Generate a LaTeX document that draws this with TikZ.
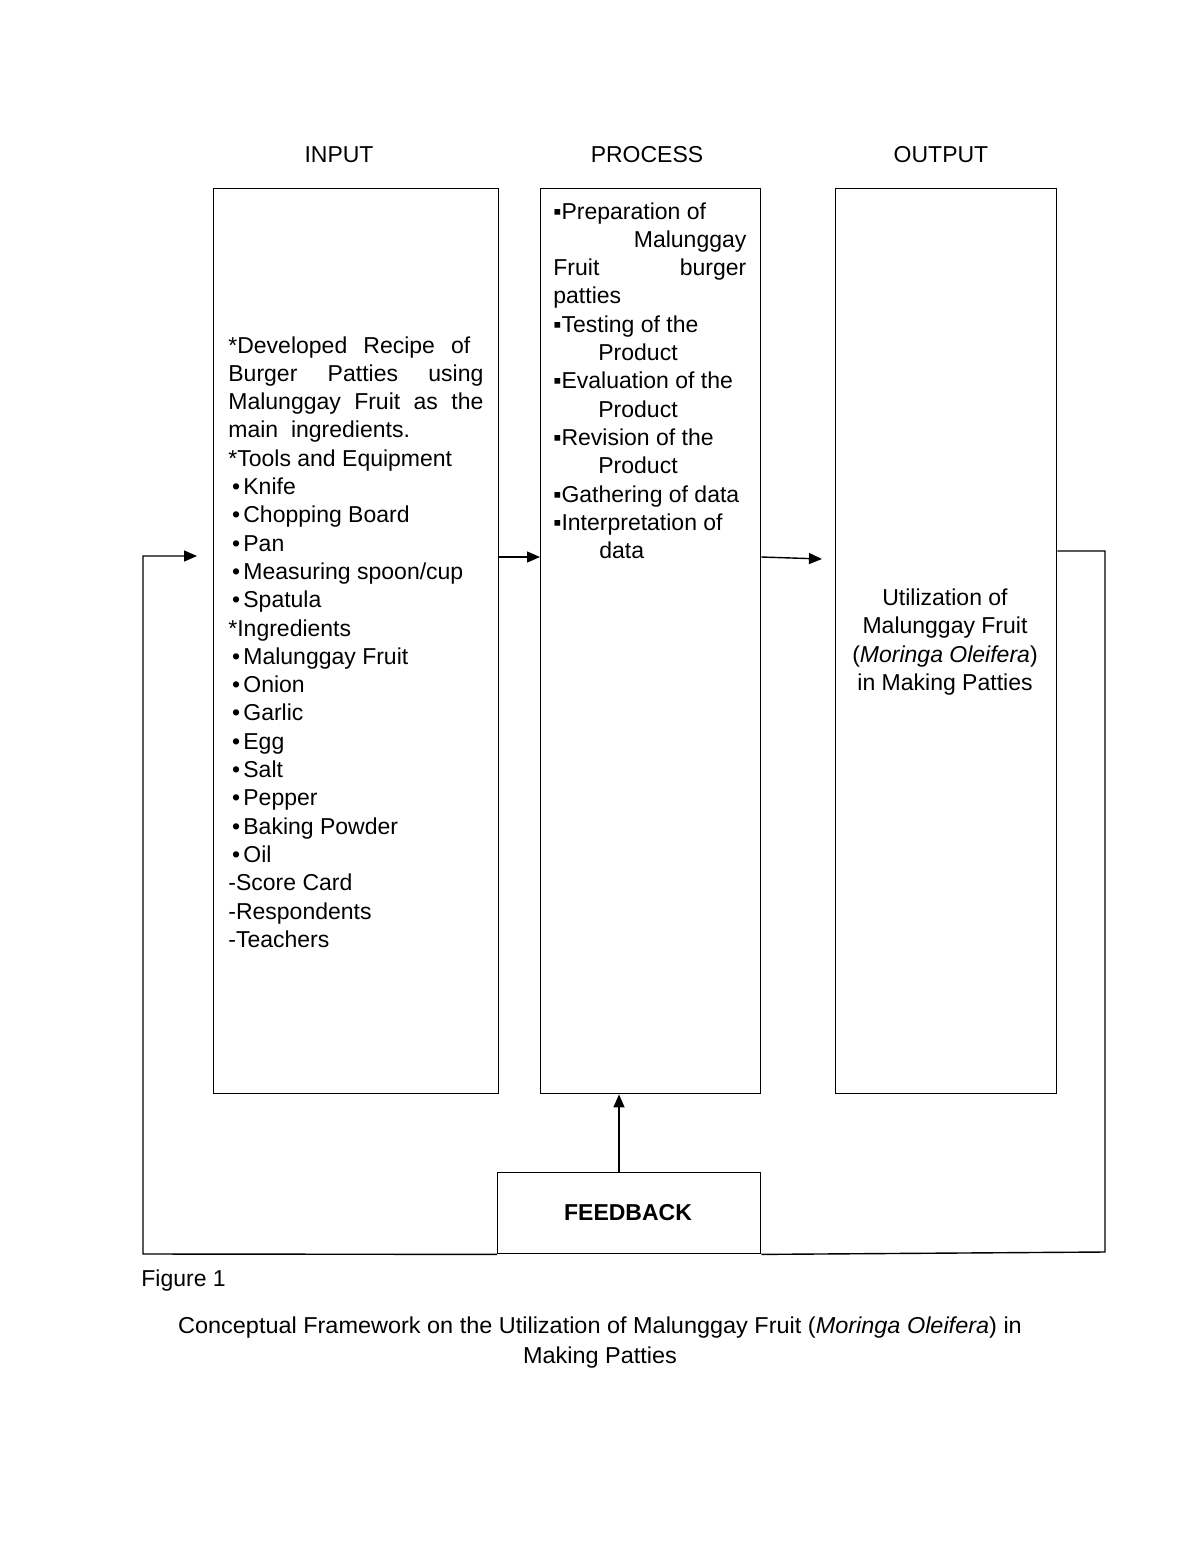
\documentclass[tikz,border=0pt]{standalone}
\usepackage{fontspec}
\setmainfont{Liberation Sans}
\newfontfamily\capfont[FakeStretch=1.02]{Liberation Sans}
\usetikzlibrary{arrows.meta}
\tikzset{
  every node/.style={font=\fontsize{11.5}{14.15}\selectfont, inner sep=0pt},
  boxstyle/.style={draw, line width=0.7pt, anchor=north west},
  txt/.style={align=left, anchor=north west},
  line/.style={line width=0.7pt},
  arr/.style={line width=0.7pt, -{Triangle[length=6.5pt,width=5.5pt]}},
}
\newcommand{\sqb}{▪}
\begin{document}
\begin{tikzpicture}[x=0.5pt,y=-0.5pt]
\useasboundingbox[fill=white] (0,0) rectangle (1200,1553);

% headings
\node (hin) at (339,155) {INPUT};
\node (hproc) at (647,155) {PROCESS};
\node (hout) at (941,155) {OUTPUT};

% boxes
\node[boxstyle, minimum width=142.5pt, minimum height=452.5pt] (inbox) at (213,188) {};
\node[boxstyle, minimum width=110pt, minimum height=452.5pt] (procbox) at (540,188) {};
\node[boxstyle, minimum width=110.5pt, minimum height=452.5pt] (outbox) at (835,188) {};
\node[boxstyle, minimum width=131.5pt, minimum height=40.5pt] (fb) at (497,1172) {};
\node[font=\fontsize{11.5}{14.15}\selectfont\bfseries] (fbtext) at (628,1213) {FEEDBACK};

% input text
\node[txt] (intext) at (228,336) {%
\makebox[121pt][s]{*Developed Recipe of}\\
\makebox[127.5pt][s]{Burger Patties using}\\
\makebox[127.5pt][s]{Malunggay Fruit as the}\\
main\ \ ingredients.\\
*Tools and Equipment\\
\makebox[7.5pt][l]{\,•}Knife\\
\makebox[7.5pt][l]{\,•}Chopping Board\\
\makebox[7.5pt][l]{\,•}Pan\\
\makebox[7.5pt][l]{\,•}Measuring spoon/cup\\
\makebox[7.5pt][l]{\,•}Spatula\\
*Ingredients\\
\makebox[7.5pt][l]{\,•}Malunggay Fruit\\
\makebox[7.5pt][l]{\,•}Onion\\
\makebox[7.5pt][l]{\,•}Garlic\\
\makebox[7.5pt][l]{\,•}Egg\\
\makebox[7.5pt][l]{\,•}Salt\\
\makebox[7.5pt][l]{\,•}Pepper\\
\makebox[7.5pt][l]{\,•}Baking Powder\\
\makebox[7.5pt][l]{\,•}Oil\\
-Score Card\\
-Respondents\\
-Teachers};

% process text
\node[txt] (proctext) at (553,202) {%
\sqb Preparation of\\
\makebox[96.5pt][r]{Malunggay}\\
\makebox[96.5pt][s]{Fruit burger}\\
patties\\
\sqb Testing of the\\
\hspace*{22.5pt}Product\\
\sqb Evaluation of the\\
\hspace*{22.5pt}Product\\
\sqb Revision of the\\
\hspace*{22.5pt}Product\\
\sqb Gathering of data\\
\sqb Interpretation of\\
\hspace*{23pt}data};

% output text
\node[align=center] (outtext) at (945,642) {Utilization of\\Malunggay Fruit\\(\textit{Moringa Oleifera})\\in Making Patties};

% caption
\node[anchor=west] (fig) at (141,1281) {Figure 1};
\node[align=center, font=\fontsize{11.5}{15}\capfont] (cap) at (600,1343) {Conceptual Framework on the Utilization of Malunggay Fruit (\textit{Moringa Oleifera}) in\\Making Patties};

% helper coordinates
\coordinate (ya) at (0,557);
\coordinate (inL) at (197,556);
\coordinate (outR) at (822,559);
\coordinate (fbx) at (619,0);
\coordinate (bl) at (143,1254);
\coordinate (tl) at (143,556);
\coordinate (tr) at (1105,551);
\coordinate (br) at (1105,1252);
\coordinate (yr) at (0,551);

% connectors
\draw[arr] (inbox.east |- ya) -- (procbox.west |- ya);
\draw[arr] (procbox.east |- ya) -- (outR);
\draw[arr] (fb.north -| fbx) -- (procbox.south -| fbx);
\draw[arr] (fb.south west) -- (bl) -- (tl) -- (inL);
\draw[line] (outbox.east |- yr) -- (tr) -- (br) -- (fb.south east);
\end{tikzpicture}
\end{document}
